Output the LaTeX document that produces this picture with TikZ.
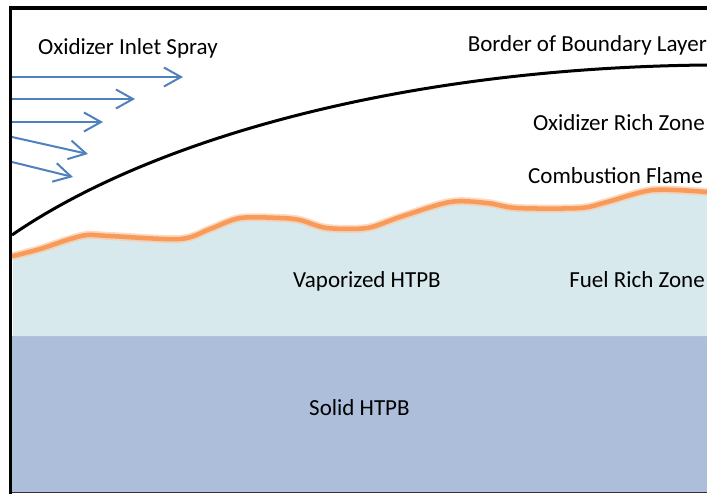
\documentclass[tikz,border=0pt]{standalone}
\usepackage{fontspec}
\setmainfont{Carlito}
\usetikzlibrary{arrows.meta}
\definecolor{sprayblue}{HTML}{4F81BD}
\definecolor{vaporfill}{HTML}{D7E9ED}
\definecolor{solidfill}{HTML}{ADBEDB}
\definecolor{flamecore}{HTML}{F79A5A}
\definecolor{flamehalo}{HTML}{FBC9A4}
\tikzset{
  lbl/.style={inner sep=0pt, font=\fontsize{23}{27}\selectfont, text=black},
  spray/.style={draw=sprayblue, line width=2pt, -{Straight Barb[length=17pt,width=19pt,line width=2pt]}},
  wall/.style={draw=black, line width=3.5pt},
  blayer/.style={draw=black, line width=3pt},
}
\begin{document}
\begin{tikzpicture}[x=1pt,y=-1pt]
\useasboundingbox (0,0) rectangle (707,495);
\fill[white] (0,0) rectangle (707,495);

% solid fuel grain
\fill[solidfill] (11,336) rectangle (707,492);

% vaporized fuel layer under the flame
\fill[vaporfill] plot[smooth, tension=0.5] coordinates {
  (13,256) (40,249) (67,240) (87,235) (110,236) (180,239) (210,229)
  (240,218) (280,218) (300,220) (327,228) (367,228) (400,217) (450,202)
  (487,203) (517,208) (580,208) (607,202) (653,190) (707,192)}
  -- (707,336) -- (13,336) -- cycle;

% combustion flame front
\draw[flamehalo, line width=8pt, line cap=round, opacity=0.7] plot[smooth, tension=0.5] coordinates {
  (13,256) (40,249) (67,240) (87,235) (110,236) (180,239) (210,229)
  (240,218) (280,218) (300,220) (327,228) (367,228) (400,217) (450,202)
  (487,203) (517,208) (580,208) (607,202) (653,190) (707,192)};
\draw[flamecore, line width=4.5pt, line cap=round] plot[smooth, tension=0.5] coordinates {
  (13,256) (40,249) (67,240) (87,235) (110,236) (180,239) (210,229)
  (240,218) (280,218) (300,220) (327,228) (367,228) (400,217) (450,202)
  (487,203) (517,208) (580,208) (607,202) (653,190) (707,192)};

% border of the boundary layer
\coordinate (blstart) at (12,235);
\coordinate (blend) at (707,65);
\draw[blayer] (blstart) .. controls (150,140) and (400,68) .. (blend);

% walls
\draw[draw=black!80, line width=1.2pt] (10,492.5) -- (707,492.5);
\draw[wall] (10.5,6) -- (10.5,494);
\draw[wall] (8.75,8) -- (707,8);

% oxidizer spray arrows
\coordinate (s1) at (12,77);  \coordinate (e1) at (183,77);
\coordinate (s2) at (12,99);  \coordinate (e2) at (135,99);
\coordinate (s3) at (12,122); \coordinate (e3) at (103,122);
\coordinate (s4) at (12,137); \coordinate (e4) at (88,154);
\coordinate (s5) at (12,162); \coordinate (e5) at (73,177);
\foreach \i in {1,...,5} \draw[spray] (s\i) -- (e\i);

% labels
\node[lbl, anchor=base west] (spraylbl) at (38,55) {Oxidizer Inlet Spray};
\node[lbl, anchor=base east] (bllbl) at (707,52) {Border of Boundary Layer};
\node[lbl, anchor=base east] (oxlbl) at (705,130) {Oxidizer Rich Zone};
\node[lbl, anchor=base east] (flamelbl) at (703,183) {Combustion Flame};
\node[lbl, anchor=base west] (vaplbl) at (293,287) {Vaporized HTPB};
\node[lbl, anchor=base east] (fuellbl) at (705,287) {Fuel Rich Zone};
\node[lbl, anchor=base west] (solidlbl) at (309,415) {Solid HTPB};
\end{tikzpicture}
\end{document}
